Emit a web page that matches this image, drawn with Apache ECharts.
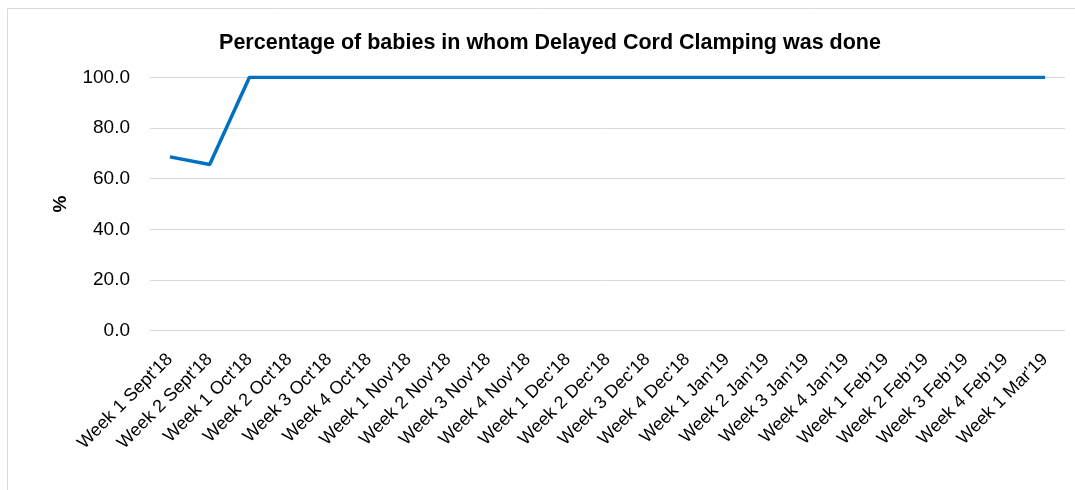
<!DOCTYPE html>
<html><head><meta charset="utf-8">
<script src="https://cdn.jsdelivr.net/npm/echarts@6/dist/echarts.min.js"></script>
<style>html,body{margin:0;padding:0;background:#fff}#c{width:1075px;height:490px}</style>
</head><body><div id="c"></div>
<script>
const categories = ["Week 1 Sept'18","Week 2 Sept'18","Week 1 Oct'18","Week 2 Oct'18","Week 3 Oct'18","Week 4 Oct'18","Week 1 Nov'18","Week 2 Nov'18","Week 3 Nov'18","Week 4 Nov'18","Week 1 Dec'18","Week 2 Dec'18","Week 3 Dec'18","Week 4 Dec'18","Week 1 Jan'19","Week 2 Jan'19","Week 3 Jan'19","Week 4 Jan'19","Week 1 Feb'19","Week 2 Feb'19","Week 3 Feb'19","Week 4 Feb'19","Week 1 Mar'19"];
const values = [68.6,65.6,100,100,100,100,100,100,100,100,100,100,100,100,100,100,100,100,100,100,100,100,100];
const chart = echarts.init(document.getElementById('c'));
chart.setOption({
  animation:false,
  graphic:[{type:'rect',shape:{x:7.5,y:8.5,width:1100,height:500},style:{fill:'none',stroke:'#d9d9d9',lineWidth:1}}],
  title:{text:'Percentage of babies in whom Delayed Cord Clamping was done',left:545,textAlign:'center',top:27,
    textStyle:{fontFamily:'Liberation Sans, Arial',fontSize:21.5,fontWeight:'bold',color:'#000'}},
  grid:{left:150,right:10,top:77.3,bottom:159.3,containLabel:false},
  xAxis:{type:'category',data:categories,boundaryGap:true,
    axisLine:{show:false},axisTick:{show:false},
    axisLabel:{rotate:45,interval:0,margin:26,fontFamily:'Liberation Sans, Arial',fontSize:18,color:'#000'}},
  yAxis:{type:'value',min:0,max:100,interval:20,name:'%',nameLocation:'middle',nameGap:80,nameRotate:90,
    nameTextStyle:{fontFamily:'Liberation Sans, Arial',fontSize:19,fontWeight:'bold',color:'#000'},
    axisLabel:{formatter:v=>v.toFixed(1),margin:20,fontFamily:'Liberation Sans, Arial',fontSize:19,color:'#000'},
    splitLine:{lineStyle:{color:'#d9d9d9',width:1}},axisLine:{show:false},axisTick:{show:false}},
  series:[{type:'line',data:values,symbol:'none',lineStyle:{color:'#0070C0',width:3.5},itemStyle:{color:'#0070C0'}}]
});
</script></body></html>
